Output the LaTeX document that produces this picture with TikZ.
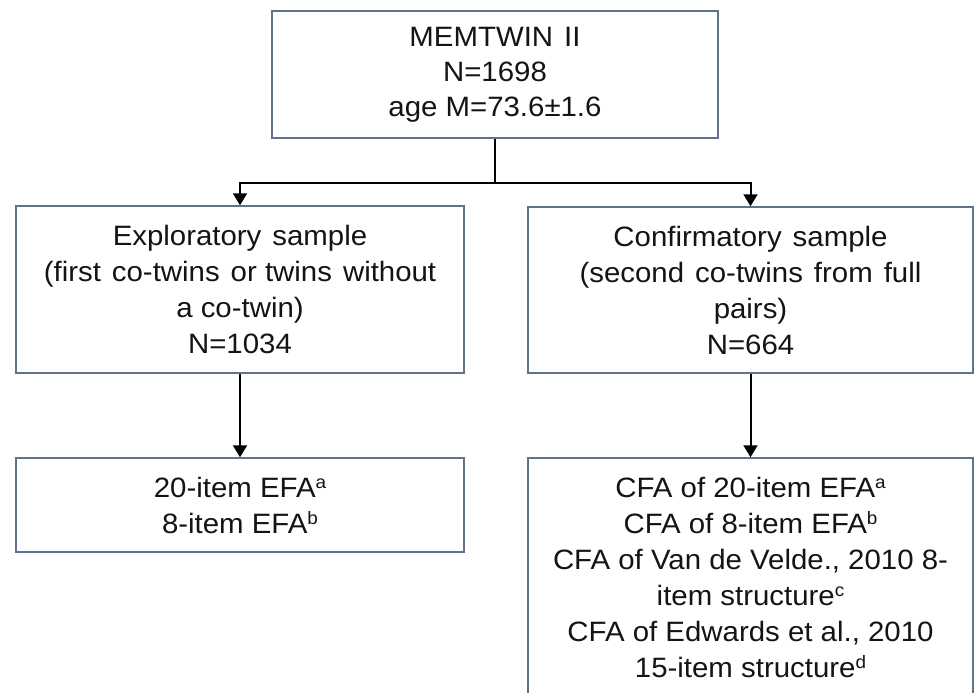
\documentclass[tikz,border=0pt]{standalone}
\usepackage{fontspec}
\setmainfont{Liberation Sans}[FakeStretch=1.05]
\usetikzlibrary{arrows.meta}
\definecolor{boxline}{RGB}{98,114,142}
\definecolor{ink}{RGB}{20,20,20}
\newcommand{\wsp}{\hspace{11pt}}
\newcommand{\supr}[1]{\raisebox{9pt}{\fontsize{18}{18}\selectfont #1}}
\tikzset{
  box/.style={draw=boxline, line width=1.5pt, fill=white, align=center, inner sep=0pt,
    text=ink, font=\fontsize{28}{36}\selectfont},
  conn/.style={draw=black, line width=2pt},
  arr/.style={conn, -{Triangle[width=14pt,length=12pt]}}
}
\begin{document}
\begin{tikzpicture}[x=1pt,y=-1pt]
\clip (0,0) rectangle (974,693);
\fill[white] (0,0) rectangle (974,693);
\node[box, minimum width=446pt, minimum height=127pt, font=\fontsize{28}{35}\selectfont] (top) at (495,74.5)
  {MEMTWIN\wsp II\\N=1698\\age M=73.6±1.6};
\node[box, minimum width=448pt, minimum height=167pt] (lm) at (240,289.5)
  {Exploratory\wsp sample\\(first\wsp co-twins\wsp or twins\wsp without\\a co-twin)\\N=1034};
\node[box, minimum width=445pt, minimum height=166pt] (rm) at (750.5,290)
  {Confirmatory\wsp sample\\(second\wsp co-twins\wsp from\wsp full\\pairs)\\N=664};
\node[box, minimum width=448pt, minimum height=94pt] (lb) at (240,505)
  {20-item EFA\supr{a}\\8-item EFA\supr{b}};
\node[box, minimum width=445pt, minimum height=238pt] (rb) at (750.5,577)
  {CFA of 20-item EFA\supr{a}\\CFA of 8-item EFA\supr{b}\\CFA of Van de Velde., 2010 8-\\item structure\supr{c}\\CFA of Edwards et al., 2010\\15-item structure\supr{d}};
\coordinate (j) at (495,183);
\draw[conn] (top.south) -- (j);
\draw[arr] (j) -| (lm.north);
\draw[arr] (j) -| (rm.north);
\draw[arr] (lm.south) -- (lb.north);
\draw[arr] (rm.south) -- (rb.north);
\end{tikzpicture}
\end{document}
